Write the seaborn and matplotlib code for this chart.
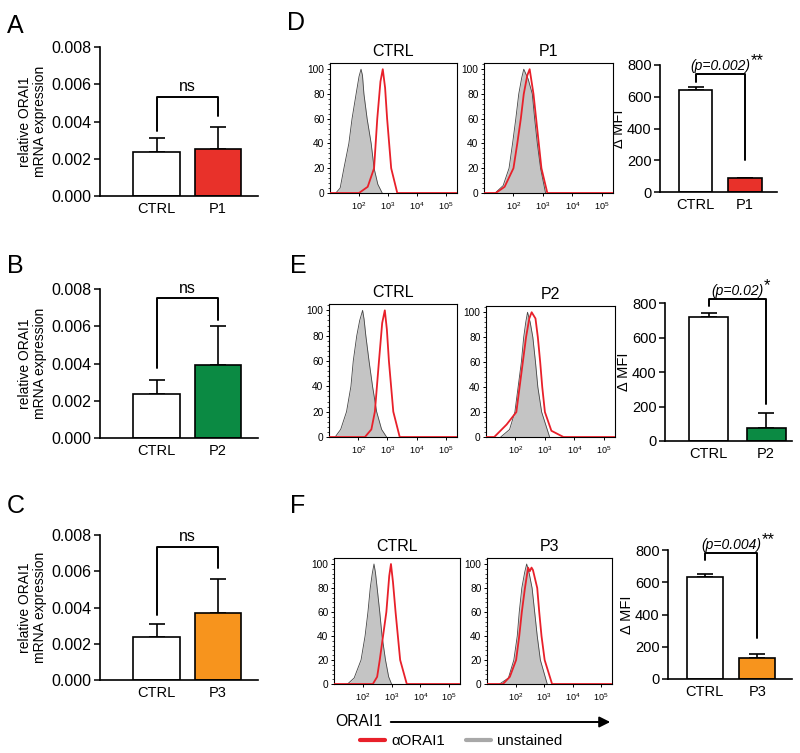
import numpy as np
import matplotlib.pyplot as plt
import seaborn as sns
from matplotlib.lines import Line2D
from matplotlib.patches import FancyArrowPatch
from matplotlib.ticker import AutoMinorLocator, FormatStrFormatter

sns.set_style('ticks', {'axes.edgecolor': 'black', 'xtick.color': 'black',
                        'ytick.color': 'black', 'text.color': 'black',
                        'axes.labelcolor': 'black'})
plt.rcParams['font.family'] = ['Liberation Sans', 'DejaVu Sans']
plt.rcParams['mathtext.fontset'] = 'custom'
plt.rcParams['mathtext.rm'] = 'Liberation Sans'

RED = '#e8312a'
GREEN = '#0b8a43'
ORANGE = '#f7941d'
HIST_RED = '#e8202a'
patients = ['P1', 'P2', 'P3']
patient_colors = [RED, GREEN, ORANGE]

# qPCR: relative ORAI1 mRNA expression (mean, SEM)
mrna_ctrl = [0.00235, 0.00235, 0.00235]
mrna_ctrl_sem = [0.00075, 0.00075, 0.00075]
mrna_pat = [0.00255, 0.0039, 0.0037]
mrna_pat_sem = [0.00115, 0.0021, 0.0019]
# bracket: left leg end, right leg end, top
mrna_brackets = [(0.00347, 0.00427, 0.00533),
                 (0.00376, 0.00634, 0.0075),
                 (0.00359, 0.00618, 0.00734)]

# delta MFI (mean, SEM)
mfi_ctrl = [645, 720, 630]
mfi_ctrl_sem = [18, 22, 20]
mfi_pat = [88, 75, 130]
mfi_pat_sem = [0, 88, 25]
mfi_brackets = [(693, 200, 743), (783, 214, 823), (738, 254, 781)]
pvals = ['(p=0.002)', '(p=0.02)', '(p=0.004)']
stars = ['**', '*', '**']

# flow histograms, x in log10 fluorescence, y in % of max
ctrl_grey_x = [[1.2, 1.35, 1.48, 1.65, 1.76, 1.9, 2.0, 2.07, 2.12, 2.17, 2.28, 2.42, 2.52, 2.65, 2.8],
               [1.21, 1.4, 1.6, 1.75, 1.83, 1.95, 2.05, 2.15, 2.2, 2.26, 2.37, 2.49, 2.63, 2.8, 2.97],
               [1.47, 1.7, 1.94, 2.08, 2.18, 2.26, 2.33, 2.39, 2.44, 2.5, 2.59, 2.67, 2.79, 2.9, 3.0]]
ctrl_grey_y = [[0, 4, 20, 40, 60, 80, 94, 100, 95, 80, 60, 40, 20, 7, 0],
               [0, 6, 20, 40, 60, 80, 92, 100, 93, 80, 60, 40, 20, 6, 0],
               [0, 5, 20, 40, 60, 80, 92, 100, 93, 80, 60, 40, 20, 6, 0]]
ctrl_red_x = [[1.0, 2.0, 2.3, 2.52, 2.63, 2.74, 2.82, 2.9, 2.97, 3.11, 3.32, 5.38],
              [1.0, 2.23, 2.45, 2.57, 2.71, 2.82, 2.91, 2.98, 3.05, 3.2, 3.42, 5.38],
              [1.0, 2.35, 2.5, 2.59, 2.82, 2.92, 2.98, 3.05, 3.14, 3.3, 3.53, 5.38]]
ctrl_red_y = [[0, 0, 5, 20, 60, 90, 100, 85, 60, 20, 0, 0],
              [0, 0, 6, 20, 60, 90, 100, 85, 60, 20, 0, 0],
              [0, 0, 6, 20, 60, 90, 100, 85, 60, 20, 0, 0]]
pat_grey_x = [[1.38, 1.65, 1.85, 1.97, 2.08, 2.18, 2.28, 2.35, 2.5, 2.64, 2.72, 2.81, 2.92, 3.09],
              [1.5, 1.8, 1.98, 2.09, 2.2, 2.28, 2.35, 2.41, 2.5, 2.59, 2.68, 2.76, 2.89, 3.16],
              [1.44, 1.75, 1.94, 2.06, 2.13, 2.22, 2.32, 2.39, 2.48, 2.58, 2.67, 2.76, 2.87, 3.11]]
pat_grey_y = [[0, 6, 20, 40, 60, 80, 93, 100, 92, 80, 60, 40, 20, 0],
              [0, 6, 20, 40, 60, 80, 92, 100, 92, 80, 60, 40, 20, 0],
              [0, 5, 20, 40, 60, 80, 93, 100, 92, 80, 60, 40, 20, 0]]
pat_red_x = [[1.0, 1.4, 1.7, 2.0, 2.13, 2.25, 2.35, 2.47, 2.55, 2.68, 2.77, 2.86, 2.95, 3.15, 5.38],
             [1.0, 1.28, 1.7, 2.03, 2.25, 2.36, 2.47, 2.55, 2.68, 2.76, 2.84, 2.91, 3.0, 3.22, 3.63, 5.38],
             [1.0, 1.56, 1.8, 2.02, 2.13, 2.22, 2.33, 2.44, 2.5, 2.56, 2.61, 2.76, 2.83, 2.91, 3.02, 3.28, 5.38]]
pat_red_y = [[0, 0, 5, 20, 40, 60, 80, 95, 100, 80, 60, 40, 20, 0, 0],
             [0, 0, 10, 20, 60, 80, 95, 100, 95, 80, 60, 40, 20, 5, 0, 0],
             [0, 0, 6, 20, 40, 60, 80, 97, 94, 97, 95, 80, 60, 40, 20, 0, 0]]

fig = plt.figure(figsize=(8, 7.53), dpi=100)


def px_axes(left, top, right, bottom):
    return fig.add_axes([left / 800, 1 - bottom / 753,
                         (right - left) / 800, (bottom - top) / 753])


def draw_bars(ax, labels, means, sems, colors, width, xlim, ylim, yticks,
              brk, fmt, tick_fs):
    sns.barplot(x=labels, y=means, hue=labels, palette=colors, legend=False,
                width=width, edgecolor='black', linewidth=1.2, saturation=1,
                ax=ax)
    ax.errorbar(range(len(labels)), means,
                yerr=[np.zeros(len(means)), sems], fmt='none',
                ecolor='black', elinewidth=1.2, capsize=6, capthick=1.2,
                zorder=0)
    left, right, top = brk
    ax.plot([0, 0, 1, 1], [left, top, top, right], color='black', lw=1.4,
            clip_on=False)
    ax.set_xlim(xlim)
    ax.set_ylim(ylim)
    ax.set_yticks(yticks)
    ax.yaxis.set_major_formatter(FormatStrFormatter(fmt))
    ax.tick_params(axis='x', length=0, labelsize=10.5, pad=4)
    ax.tick_params(axis='y', length=4, width=1.1, labelsize=tick_fs, pad=2)
    sns.despine(ax=ax)
    for s in ['left', 'bottom']:
        ax.spines[s].set_linewidth(1.2)
    return top


def draw_hist(ax, gx, gy, rx, ry, title):
    gx = np.power(10.0, gx)
    rx = np.power(10.0, rx)
    ax.fill_between(gx, gy, color='#c4c4c4', lw=0, zorder=1)
    ax.plot(gx, gy, color='#454545', lw=0.6, zorder=2)
    sns.lineplot(x=rx, y=ry, color=HIST_RED, lw=1.3, sort=False, ax=ax,
                 zorder=3)
    ax.set_xscale('log')
    ax.set_xlim(10 ** 1.0, 10 ** 5.38)
    ax.set_ylim(0, 105)
    ax.set_xticks([1e2, 1e3, 1e4, 1e5])
    ax.set_yticks([0, 20, 40, 60, 80, 100])
    ax.yaxis.set_minor_locator(AutoMinorLocator(5))
    ax.tick_params(axis='both', which='major', length=2.5, width=0.7,
                   pad=1.5)
    ax.tick_params(axis='x', labelsize=6.5, pad=3)
    ax.tick_params(axis='y', labelsize=7.3)
    ax.tick_params(axis='both', which='minor', length=1.5, width=0.5)
    for s in ax.spines.values():
        s.set_linewidth(0.8)
    ax.set_title(title, fontsize=11.5, pad=5)


bar_rects = [(100, 47, 258, 196), (100, 289, 258, 438), (100, 535, 258, 680)]
mfi_rects = [(660, 65, 777, 192), (665, 303, 792, 441), (668, 550, 792, 679)]
mfi_xlims = [(-0.72, 1.65), (-0.76, 1.45), (-0.70, 1.66)]
hist_rects = [[(330, 63, 457, 193), (484, 63, 613, 193)],
              [(329, 304, 457, 437), (486, 306, 615, 437)],
              [(334, 558, 460, 684), (487, 558, 612, 684)]]

for i in range(3):
    labels = ['CTRL', patients[i]]
    colors = ['white', patient_colors[i]]

    ax = px_axes(*bar_rects[i])
    top = draw_bars(ax, labels, [mrna_ctrl[i], mrna_pat[i]],
                    [mrna_ctrl_sem[i], mrna_pat_sem[i]], colors, 0.76,
                    (-0.92, 1.65), (0, 0.008),
                    [0, 0.002, 0.004, 0.006, 0.008], mrna_brackets[i],
                    '%.3f', 11.5)
    ax.annotate('ns', xy=(0.5, top), xytext=(0, 2),
                textcoords='offset points', ha='center', va='bottom',
                fontsize=11.5)
    ax.set_ylabel('relative ORAI1\nmRNA expression', fontsize=10,
                  labelpad=3, linespacing=1.15)

    ax = px_axes(*mfi_rects[i])
    top = draw_bars(ax, labels, [mfi_ctrl[i], mfi_pat[i]],
                    [mfi_ctrl_sem[i], mfi_pat_sem[i]], colors, 0.68,
                    mfi_xlims[i], (0, 800), [0, 200, 400, 600, 800],
                    mfi_brackets[i], '%d', 10.5)
    txt = ax.annotate(pvals[i], xy=(0.5, top), xytext=(0, 0.5),
                      textcoords='offset points', ha='center', va='bottom',
                      fontsize=10, style='italic', annotation_clip=False)
    ax.annotate(stars[i], xy=(1, 0.62), xycoords=txt, xytext=(0.5, 0),
                textcoords='offset points', ha='left', va='baseline',
                fontsize=12)
    ax.set_ylabel('Δ MFI', fontsize=10.5, labelpad=1)

    axc = px_axes(*hist_rects[i][0])
    draw_hist(axc, ctrl_grey_x[i], ctrl_grey_y[i], ctrl_red_x[i],
              ctrl_red_y[i], 'CTRL')
    axp = px_axes(*hist_rects[i][1])
    draw_hist(axp, pat_grey_x[i], pat_grey_y[i], pat_red_x[i],
              pat_red_y[i], patients[i])

# panel letters
for letter, (x, y) in zip('ABCDEF', [(7, 33), (7, 273), (7, 513),
                                    (287, 30), (290, 273), (290, 513)]):
    fig.text(x / 800, 1 - y / 753, letter, fontsize=18, va='baseline')

# x-axis label with arrow
fig.text(335 / 800, 1 - 722 / 753, 'ORAI1', fontsize=11.3, va='center')
fig.add_artist(FancyArrowPatch((388 / 800, 1 - 722 / 753),
                               (613 / 800, 1 - 722 / 753),
                               transform=fig.transFigure, arrowstyle='-|>',
                               mutation_scale=16, lw=1.4, color='black'))

handles = [Line2D([], [], color=HIST_RED, lw=3),
           Line2D([], [], color='#a8a8a8', lw=3)]
fig.legend(handles, ['αORAI1', 'unstained'], loc='center',
           bbox_to_anchor=(461 / 800, 1 - 741 / 753), ncol=2, frameon=False,
           fontsize=10.8, handlelength=1.65, handletextpad=0.4,
           columnspacing=1.4)

fig.savefig('out.png', dpi=100)
